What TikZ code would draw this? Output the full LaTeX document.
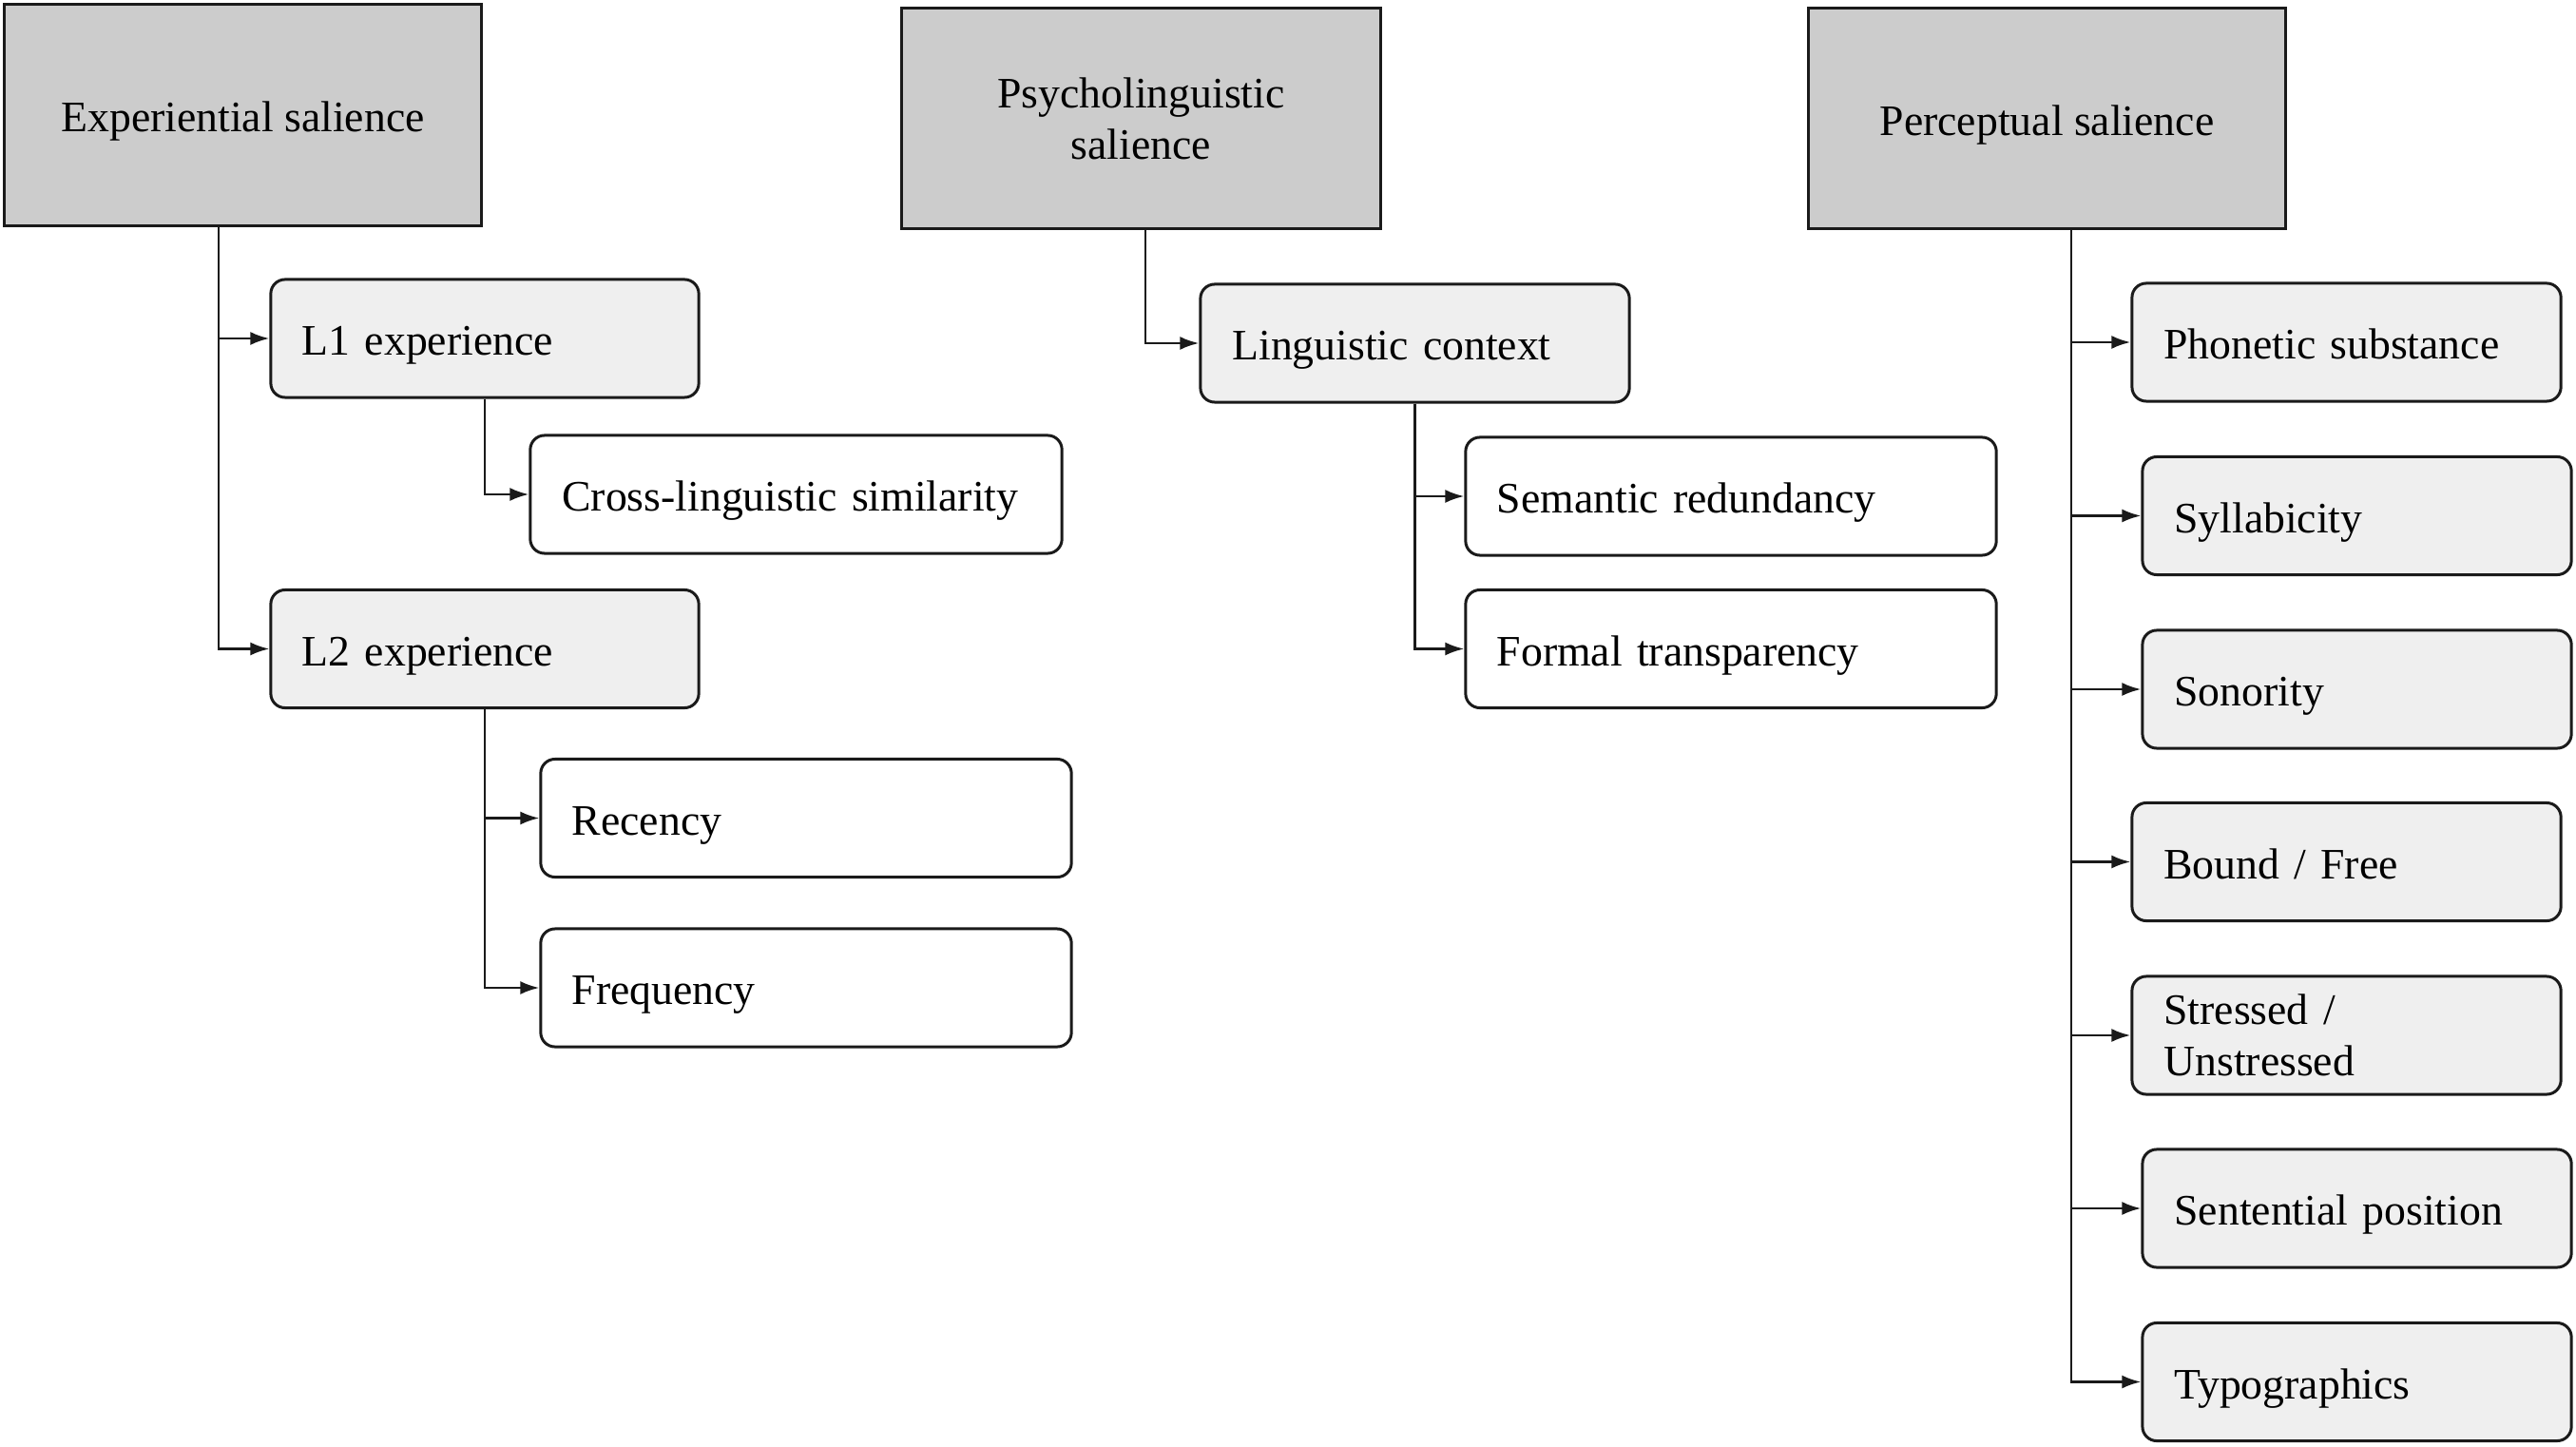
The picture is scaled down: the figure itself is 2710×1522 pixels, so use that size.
\documentclass[tikz,border=0pt]{standalone}
\usepackage{fontspec}
\setmainfont{Liberation Serif}
\usetikzlibrary{arrows.meta}
\definecolor{darkfill}{HTML}{CCCCCC}
\definecolor{lightfill}{HTML}{EFEFEF}
\definecolor{edge}{HTML}{1A1A1A}
\tikzset{
  basebox/.style={draw=edge, line width=0.85pt, font=\fontsize{13pt}{15.3pt}\selectfont, inner ysep=0pt},
  oneline/.style={text height=13pt, text depth=3pt},
  topbox/.style={basebox, fill=darkfill, align=center},
  subbox/.style={basebox, rounded corners=1.5mm, align=left, inner xsep=3.3mm,
                 minimum height=12.4mm},
  subA/.style={subbox, fill=lightfill, text width=45mm-6.6mm, minimum width=45mm},
  subB/.style={subbox, fill=white, text width=55.8mm-6.6mm, minimum width=55.8mm},
  conn/.style={draw=edge, line width=0.75pt, -{Latex[length=2mm,width=1.4mm]}},
}
\begin{document}
\begin{tikzpicture}[x=0.01cm,y=-0.01cm]
\useasboundingbox (0,0) rectangle (2710,1522);
\fill[white] (0,0) rectangle (2710,1522);

% top boxes
\node[topbox, oneline, minimum width=50.1mm, minimum height=23.2mm] (exp) at (255.5,121) {Experiential salience};
\node[topbox, minimum width=50.3mm, minimum height=23.1mm] (psy) at (1200.5,124.5) {Psycholinguistic\\salience};
\node[topbox, oneline, minimum width=50.1mm, minimum height=23.1mm] (per) at (2153.5,124.5) {Perceptual salience};

% experiential branch
\node[subA, oneline] (l1) at (510,356) {L1 experience};
\node[subB, oneline, minimum width=55.9mm] (cross) at (837.5,520) {Cross-linguistic similarity};
\node[subA, oneline] (l2) at (510,682.5) {L2 experience};
\node[subB, oneline] (rec) at (848,860.5) {Recency};
\node[subB, oneline] (freq) at (848,1039) {Frequency};

% psycholinguistic branch
\node[subA, oneline, minimum width=45.1mm] (ling) at (1488.5,361) {Linguistic context};
\node[subB, oneline] (sem) at (1821,522) {Semantic redundancy};
\node[subB, oneline] (form) at (1821,682.5) {Formal transparency};

% perceptual branch
\node[subA, oneline, minimum width=45.1mm] (pho) at (2468.5,360) {Phonetic substance};
\node[subA, oneline, minimum width=45.1mm] (syl) at (2479.5,542.5) {Syllabicity};
\node[subA, oneline, minimum width=45.1mm] (son) at (2479.5,725) {Sonority};
\node[subA, oneline, minimum width=45.1mm] (bf) at (2468.5,906.5) {Bound / Free};
\node[subA, minimum width=45.1mm] (st) at (2468.5,1089) {Stressed /\\Unstressed};
\node[subA, oneline, minimum width=45.1mm] (sen) at (2479.5,1271) {Sentential position};
\node[subA, oneline, minimum width=45.1mm] (typ) at (2479.5,1453.5) {Typographics};

% trunk positions
\coordinate (texp) at (230,0);
\coordinate (tpsy) at (1205,0);
\coordinate (tper) at (2179,0);

% connectors
\draw[conn] (exp.south -| texp) |- (l1.west);
\draw[conn] (exp.south -| texp) |- (l2.west);
\draw[conn] (l1.south) |- (cross.west);
\draw[conn] (l2.south) |- (rec.west);
\draw[conn] (l2.south) |- (freq.west);

\draw[conn] (psy.south -| tpsy) |- (ling.west);
\draw[conn] (ling.south) |- (sem.west);
\draw[conn] (ling.south) |- (form.west);

\foreach \n in {pho,syl,son,bf,st,sen,typ}
  \draw[conn] (per.south -| tper) |- (\n.west);
\end{tikzpicture}
\end{document}
